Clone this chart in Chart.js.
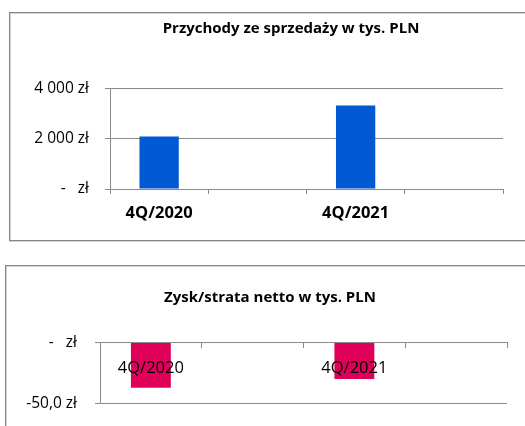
<!DOCTYPE html>
<html>
<head>
<meta charset="utf-8">
<title>Przychody i zysk/strata netto</title>
<script src="https://cdn.jsdelivr.net/npm/chart.js@4.4.0/dist/chart.umd.min.js"></script>
<style>
  body { margin: 0; background: #fff; overflow: hidden; }
  .box { position: absolute; border: 1px solid #868686; background: #fff;
         box-shadow: inset 1px 1px 0 #d4d4d4, 0 1px 0 #d4d4d4; }
  #box1 { left: 9px; top: 12px; width: 562px; height: 227px; }
  #box2 { left: 5px; top: 265px; width: 540px; height: 170px; }
  canvas { display: block; }
</style>
</head>
<body>

<div class="box" id="box1"><canvas id="revenueChart" width="562" height="227"></canvas></div>
<div class="box" id="box2"><canvas id="profitChart" width="540" height="170"></canvas></div>

<script>
// dane (tys. PLN)
const categories = ['4Q/2020', '', '4Q/2021', ''];
const revenue = [2090, null, 3320, null];
const netProfit = [-37, null, -30, null];

const revenueTicks = [0, 2000, 4000];
const revenueTickLabels = ['-   zł', '2 000 zł', '4 000 zł'];
const profitTicks = [-50, 0];
const profitTickLabels = ['-50,0 zł', '-   zł'];

const FONT = "'Open Sans', sans-serif";
const GRID = '#8a8a8a';

function tickLabel(values, labels) {
    return function(value) {
        const i = values.indexOf(value);
        return i >= 0 ? labels[i] : '';
    };
}

// pusta oś po prawej - tylko po to, żeby przesunąć tytuł
function spacerAxis(w) {
    return {
        position: 'right',
        afterFit: s => { s.width = w; },
        grid: { display: false },
        border: { display: false },
        ticks: { display: false }
    };
}

// Wykres 1: przychody
new Chart(document.getElementById('revenueChart'), {
    type: 'bar',
    data: {
        labels: categories,
        datasets: [{
            data: revenue,
            backgroundColor: '#0058d3',
            categoryPercentage: 0.8,
            barPercentage: 0.5
        }]
    },
    options: {
        responsive: false,
        animation: false,
        layout: { padding: 0 },
        plugins: {
            legend: { display: false },
            tooltip: { enabled: false },
            title: {
                display: true,
                text: 'Przychody ze sprzedaży w tys. PLN',
                color: '#000',
                font: { family: FONT, size: 15, weight: 'bold' },
                padding: { top: 7, bottom: 50.3 }
            }
        },
        scales: {
            x: {
                afterFit: s => { s.height = 51; },
                grid: { offset: true, drawOnChartArea: false, tickLength: 5, color: GRID },
                border: { color: GRID },
                ticks: { color: '#000', padding: 9, maxRotation: 0, autoSkip: false,
                         font: { family: FONT, size: 16.5, weight: 'bold' } }
            },
            y: {
                min: 0, max: 4000,
                afterFit: s => { s.width = 100; },
                afterBuildTicks: s => { s.ticks = revenueTicks.map(v => ({ value: v })); },
                grid: { color: GRID, tickLength: 5 },
                border: { color: GRID },
                ticks: { color: '#000', padding: 16, font: { family: FONT, size: 15.5 },
                         callback: tickLabel(revenueTicks, revenueTickLabels) }
            },
            pad: spacerAxis(69)
        }
    }
});

// Wykres 2: zysk/strata netto
new Chart(document.getElementById('profitChart'), {
    type: 'bar',
    data: {
        labels: categories,
        datasets: [{
            data: netProfit,
            backgroundColor: '#e0005a',
            categoryPercentage: 0.8,
            barPercentage: 0.49
        }]
    },
    options: {
        responsive: false,
        animation: false,
        layout: { padding: { left: 0, right: 12, top: 0, bottom: 32.5 } },
        plugins: {
            legend: { display: false },
            tooltip: { enabled: false },
            title: {
                display: true,
                text: 'Zysk/strata netto w tys. PLN',
                color: '#000',
                font: { family: FONT, size: 15, weight: 'bold' },
                padding: { top: 23, bottom: 35.5 }
            }
        },
        scales: {
            x: {
                position: { y: 0 },
                afterFit: s => { s.height = 0; },
                grid: { offset: true, drawOnChartArea: false, tickLength: 5, color: GRID },
                border: { color: GRID },
                ticks: { z: 1, color: '#000', padding: 10.5, maxRotation: 0, autoSkip: false,
                         font: { family: FONT, size: 16.5 } }
            },
            y: {
                min: -50, max: 0,
                afterFit: s => { s.width = 94; },
                afterBuildTicks: s => { s.ticks = profitTicks.map(v => ({ value: v })); },
                grid: { color: GRID, tickLength: 5 },
                border: { color: GRID },
                ticks: { color: '#000', padding: 18, font: { family: FONT, size: 15.5 },
                         callback: tickLabel(profitTicks, profitTickLabels) }
            },
            pad: spacerAxis(27)
        }
    }
});
</script>

</body>
</html>
